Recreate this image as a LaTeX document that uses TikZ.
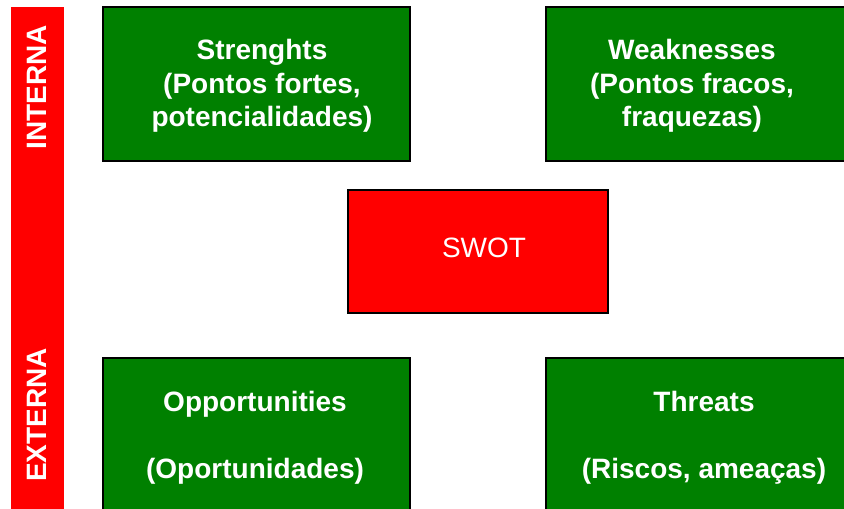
\documentclass[tikz,border=0pt]{standalone}
\usepackage{fontspec}
\setmainfont{Liberation Sans}
\usepackage{tikz}
\definecolor{SwotGreen}{HTML}{008000}
\definecolor{SwotRed}{HTML}{FF0000}
\definecolor{EdgeGray}{HTML}{A8A8A8}

\begin{document}
\begin{tikzpicture}[x=1pt, y=-1pt,
    every node/.style={font=\fontsize{28}{33.5}\selectfont\bfseries, text=white, align=center},
    boxedge/.style={draw=black, line width=1.5pt, preaction={draw=EdgeGray, line width=2.6pt}},
    quadrant/.style={boxedge, fill=SwotGreen},
    core/.style={boxedge, fill=SwotRed}]
  \useasboundingbox (0,0) rectangle (844,509);
  \clip (0,0) rectangle (844,509);
  \def\bw{307}  % quadrant width
  % internal / external bar
  \fill[SwotRed] (11,7) rectangle (64,520);
  \node[rotate=90] (interna) at (36.5,87) {INTERNA};
  \node[rotate=90] (externa) at (36.5,415) {EXTERNA};
  % quadrants, two per row
  \foreach \xq in {103,546} {
    \draw[quadrant] (\xq,7) rectangle (\xq+\bw,161);
    \draw[quadrant] (\xq,358) rectangle (\xq+\bw,525);
  }
  \node (strengths) at (262,86) {Strenghts\\(Pontos fortes,\\potencialidades)};
  \node (weaknesses) at (692,86) {Weaknesses\\(Pontos fracos,\\fraquezas)};
  \node (opportunities) at (255,438) {Opportunities\\[33pt](Oportunidades)};
  \node (threats) at (704,438) {Threats\\[33pt](Riscos, ameaças)};
  % centre box
  \draw[core] (348,190) rectangle (608,313);
  \node[font=\fontsize{28}{33.5}\selectfont] (swot) at (484,248) {SWOT};
\end{tikzpicture}
\end{document}
